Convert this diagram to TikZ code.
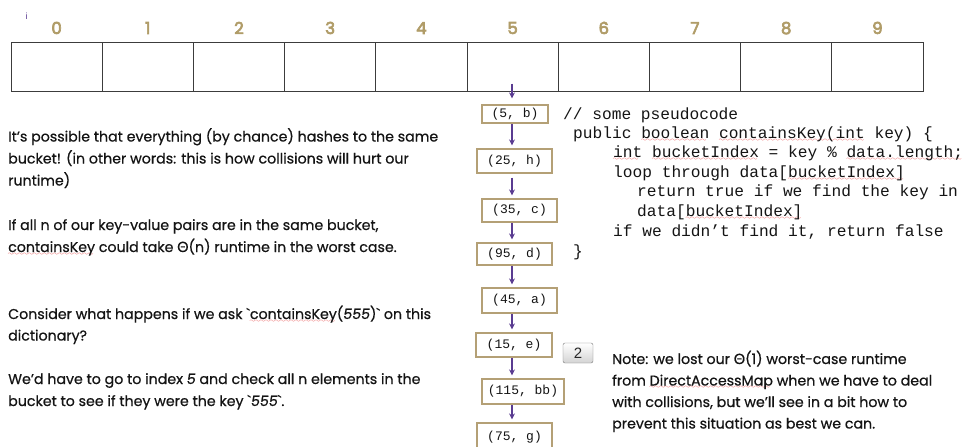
\documentclass[tikz,border=0pt]{standalone}
\usepackage{fontspec}
\newfontfamily\txtf{Poppins}[FakeBold=0.6]
\newfontfamily\digf{Poppins}[FakeBold=4]
\newfontfamily\grkf{Lato}[FakeBold=0.6]
\newfontfamily\monof{Liberation Mono}
\newfontfamily\uif{Liberation Sans}
\usetikzlibrary{arrows.meta}
\definecolor{tanc}{RGB}{180,160,118}
\definecolor{digitc}{RGB}{176,156,104}
\definecolor{purplec}{RGB}{90,60,145}
\definecolor{cellc}{RGB}{60,60,60}
\definecolor{txtc}{RGB}{20,20,20}
\definecolor{wavered}{RGB}{230,60,60}
\definecolor{badgec}{RGB}{120,120,120}
\font\wavefont=lasy6\relax
\newcommand\rwave[1]{\setbox0\hbox{#1}\rlap{\lower3pt\hbox to\wd0{\color{wavered}\leaders\hbox{\wavefont\char58}\hfil}}\box0\relax}
\newcommand\Th{{\grkf Θ}}
\tikzset{
  cell/.style={draw=cellc, line width=1pt, minimum width=91.2pt, minimum height=49pt, inner sep=0pt},
  digit/.style={font=\digf\fontsize{16.5}{16.5}\selectfont, text=digitc, anchor=base, inner sep=0pt},
  kv/.style={draw=tanc, line width=1.2pt, inner sep=0pt, minimum height=24pt, minimum width=75pt,
             font=\monof\fontsize{13}{15}\selectfont, text=txtc},
  arr/.style={draw=purplec, line width=1.3pt, -{Stealth[length=6pt,width=6pt]}},
  prose/.style={font=\txtf\fontsize{14.2}{20}\selectfont, text=txtc, anchor=base west, inner sep=0pt},
  code/.style={font=\monof\fontsize{16.2}{19}\selectfont, text=txtc, anchor=base west, inner sep=0pt},
  badge/.style={draw=badgec, rounded corners=2pt, top color=white, bottom color=black!17,
                minimum width=30pt, minimum height=20pt, inner sep=0pt,
                font=\uif\fontsize{15}{15}\selectfont, text=black!85}
}
\begin{document}
\begin{tikzpicture}[x=1pt,y=-1pt]
\path[use as bounding box] (0,0) rectangle (964,447);
% cursor mark
\node[font=\uif\fontsize{9}{9}\selectfont, text=purplec, inner sep=0pt] (cur) at (26.5,16) {i};
% array
\foreach \i in {0,...,9}{
  \node[cell] (c\i) at ({56.6+91.2*\i},66.5) {};
  \node[digit] (d\i) at ({56.6+91.2*\i},34) {\i};
}
\coordinate (ax) at (512,0);
% bucket chain
\node[kv, minimum width=66pt, minimum height=18pt] (b1) at (515,114) {(5, b)};
\node[kv] (b2) at (514.5,161) {(25, h)};
\node[kv, minimum height=23pt] (b3) at (519.5,210.5) {(35, c)};
\node[kv, minimum height=22pt] (b4) at (514.5,254) {(95, d)};
\node[kv, minimum height=25pt] (b5) at (519.5,300.5) {(45, a)};
\node[kv, minimum width=76pt] (b6) at (514,345) {(15, e)};
\node[kv, minimum width=82pt, minimum height=25pt] (b7) at (523,391.5) {(115, bb)};
\node[kv, minimum height=28pt] (b8) at (514.5,437) {(75, g)};
\draw[arr, shorten >=6pt] ([yshift=8pt]c5.south -| ax) -- (b1.north -| ax);
\draw[arr, shorten <=0.5pt, shorten >=3pt] (b1.south -| ax) -- (b2.north -| ax);
\draw[arr, shorten <=4pt, shorten >=3pt] (b2.south -| ax) -- (b3.north -| ax);
\draw[arr, shorten <=0.5pt, shorten >=3pt] (b3.south -| ax) -- (b4.north -| ax);
\draw[arr, shorten <=0.5pt, shorten >=3pt] (b4.south -| ax) -- (b5.north -| ax);
\draw[arr, shorten <=0.5pt, shorten >=3pt] (b5.south -| ax) -- (b6.north -| ax);
\draw[arr, shorten <=0.5pt, shorten >=3pt] (b6.south -| ax) -- (b7.north -| ax);
\draw[arr, shorten <=0.5pt, shorten >=3pt] (b7.south -| ax) -- (b8.north -| ax);
\node[badge] (badge) at (578,353) {2};
% left prose
\node[prose] (l1) at (8,141.5) {It’s possible that everything (by chance) hashes to the same};
\node[prose] (l2) at (8,163.5) {bucket! (in other words: this is how collisions will hurt our};
\node[prose] (l3) at (8,185.5) {runtime)};
\node[prose] (l4) at (8,230) {If all n of our key-value pairs are in the same bucket,};
\node[prose] (l5) at (8,252) {\rwave{containsKey} could take \Th(n) runtime in the worst case.};
\node[prose] (l6) at (8,319) {Consider what happens if we ask `\rwave{containsKey}(\textit{555})` on this};
\node[prose] (l7) at (8,340.5) {dictionary?};
\node[prose] (l8) at (8,384) {We’d have to go to index \textit{5} and check all n elements in the};
\node[prose] (l9) at (8,406) {bucket to see if they were the key `\textit{555}`.};
% note
\node[prose] (n1) at (612,364) {Note: we lost our \Th(1) worst-case runtime};
\node[prose] (n2) at (612,385.5) {from \rwave{DirectAccessMap} when we have to deal};
\node[prose] (n3) at (612,407) {with collisions, but we’ll see in a bit how to};
\node[prose] (n4) at (612,428.5) {prevent this situation as best we can.};
% code
\node[code] (k1) at (563,119.3) {// some pseudocode};
\node[code] (k2) at (573,138) {public \rwave{boolean} \rwave{containsKey(int} key) \{};
\node[code] (k3) at (613,157.5) {\rwave{int} \rwave{bucketIndex} = key \% \rwave{data.length;}};
\node[code] (k4) at (613,177.3) {loop through data[\rwave{bucketIndex]}};
\node[code] (k5) at (637,196.7) {return true if we find the key in};
\node[code] (k6) at (637,216.7) {data[\rwave{bucketIndex]}};
\node[code] (k7) at (613,236.7) {if we didn’t find it, return false};
\node[code] (k8) at (573,256) {\}};
\end{tikzpicture}
\end{document}
